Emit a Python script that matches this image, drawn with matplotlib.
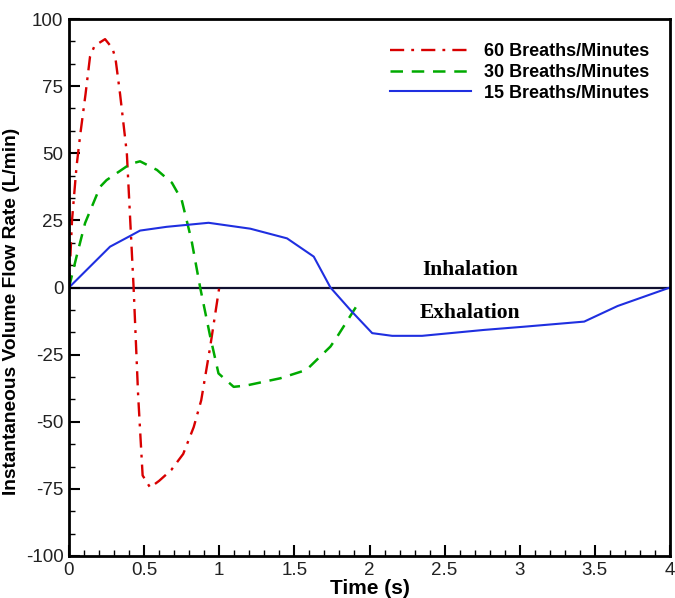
import matplotlib.pyplot as plt
from matplotlib.ticker import MultipleLocator

# 60 breaths/min
t60 = [0, 0.02, 0.05, 0.075, 0.11, 0.14, 0.17, 0.24, 0.29, 0.31, 0.34, 0.385, 0.43,
       0.46, 0.49, 0.54, 0.6, 0.68, 0.76, 0.83, 0.88, 0.94, 1.0]
q60 = [0, 25, 45, 57, 72, 86, 90, 92.5, 89, 85, 72, 50, 0,
       -40, -70, -74.5, -72, -68, -62, -52, -42, -22, 0]

# 30 breaths/min
t30 = [0, 0.05, 0.107, 0.207, 0.25, 0.407, 0.473, 0.585, 0.685, 0.75, 0.815, 0.873,
       0.94, 0.995, 1.096, 1.18, 1.407, 1.58, 1.74, 1.785, 1.93]
q30 = [0, 11.5, 24, 37.5, 40, 46, 47, 43.8, 39, 32.6, 17.7, 0,
       -18.3, -32, -37, -36.5, -33.8, -30.7, -22, -18.3, -5.5]

# 15 breaths/min
t15 = [0, 0.273, 0.407, 0.473, 0.65, 0.929, 1.207, 1.451, 1.629, 1.74,
       1.873, 2.018, 2.151, 2.35, 2.762, 3.029, 3.429, 3.651, 4.0]
q15 = [0, 15.2, 19.2, 21.2, 22.6, 24.1, 21.9, 18.3, 11.5, 0,
       -8.4, -17, -18, -18, -15.8, -14.6, -12.7, -6.9, 0]

labels = ['60 Breaths/Minutes', '30 Breaths/Minutes', '15 Breaths/Minutes']
xticks = [0, 0.5, 1, 1.5, 2, 2.5, 3, 3.5, 4]
yticks = [-100, -75, -50, -25, 0, 25, 50, 75, 100]

plt.rcParams['font.family'] = ['Liberation Sans', 'DejaVu Sans']
plt.rcParams['axes.unicode_minus'] = False

fig = plt.figure(figsize=(6.75, 5.98), dpi=100)
ax = fig.add_axes([69 / 675, 42 / 598, 601 / 675, 537 / 598])

ax.axhline(0, color='#101030', lw=1.6, zorder=1)
ax.plot(t60, q60, color='#d80000', lw=1.7, dashes=(6, 3, 1.2, 3), label=labels[0])
ax.plot(t30, q30, color='#00aa00', lw=1.8, dashes=(5, 3.5), label=labels[1])
ax.plot(t15, q15, color='#1f2fe0', lw=1.5, label=labels[2])

ax.set_xlim(0, 4)
ax.set_ylim(-100, 100)
ax.set_xticks(xticks)
ax.set_xticklabels(['0', '0.5', '1', '1.5', '2', '2.5', '3', '3.5', '4'])
ax.set_yticks(yticks)
ax.xaxis.set_minor_locator(MultipleLocator(0.1))
ax.yaxis.set_minor_locator(MultipleLocator(25 / 3))
ax.tick_params(which='major', direction='in', length=8, width=1.5, labelsize=13.5,
               pad=4, labelcolor='#222222')
ax.tick_params(which='minor', direction='in', length=4.5, width=1)
ax.tick_params(axis='x', which='both', top=False)
ax.tick_params(axis='y', which='both', right=False)
for sp in ax.spines.values():
    sp.set_linewidth(2)

ax.set_xlabel('Time (s)', fontsize=15, fontweight='bold', labelpad=0)
ax.set_ylabel('Instantaneous Volume Flow Rate (L/min)', fontsize=13.8, fontweight='bold')
ax.yaxis.set_label_coords(-0.082, 0.455)

ax.text(2.67, 4.6, 'Inhalation', family='Liberation Serif', fontweight='bold',
        fontsize=15.5, ha='center', va='baseline')
ax.text(2.67, -5.6, 'Exhalation', family='Liberation Serif', fontweight='bold',
        fontsize=15.5, ha='center', va='top')

ax.legend(loc='upper right', bbox_to_anchor=(0.993, 0.985), frameon=False,
          prop={'weight': 'bold', 'size': 13}, handlelength=4.5,
          handletextpad=0.75, labelspacing=0.2)

fig.savefig('out.png', dpi=100)
